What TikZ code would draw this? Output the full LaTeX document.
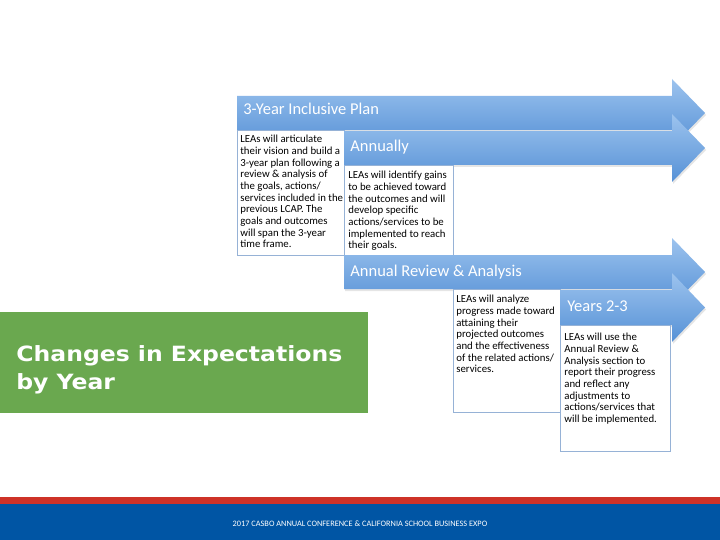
\documentclass[tikz,border=0pt]{standalone}
\usepackage{fontspec}
\setmainfont{Carlito}
\newfontfamily\headfont[FakeStretch=1.12]{DejaVu Sans}
\usetikzlibrary{shadows}

\definecolor{arrowtop}{RGB}{156,195,238}
\definecolor{arrowbot}{RGB}{86,145,214}
\definecolor{boxline}{RGB}{150,178,214}
\definecolor{casbogreen}{RGB}{106,168,79}
\definecolor{casbored}{RGB}{206,50,40}
\definecolor{casboblue}{RGB}{0,85,164}

\tikzset{every picture/.style={line width=0.75pt}}
\tikzset{
	planarrow/.style={top color=arrowtop, bottom color=arrowbot,
		drop shadow={opacity=0.2, shadow xshift=1pt, shadow yshift=-2pt}},
	arrowlabel/.style={anchor=base west, inner sep=0pt, text=white, font=\fontsize{16.5}{19}\selectfont},
	descbox/.style={draw=boxline, fill=white, line width=0.8pt},
	desc/.style={anchor=north west, inner sep=0pt, align=left, font=\fontsize{10.8}{11.65}\selectfont},
}

% left end, top and bottom of the body; head from 672 to the tip at 705
\newcommand{\stagearrow}[3]{%
	\path[planarrow] (#1,#2) -- (672,#2) -- (672,#2-17) -- (705,{(#2+#3)/2})
		-- (672,#3+17) -- (672,#3) -- (#1,#3) -- cycle;}

\begin{document}
\begin{tikzpicture}[x=1pt,y=-1pt]
		%\draw [help lines] (0,0) grid (720,540);
		\useasboundingbox (0,0) rectangle (720,540);
		\fill[white] (0,0) rectangle (720,540);

		% footer
		\fill[casbored] (0,497) rectangle (720,504);
		\fill[casboblue] (0,503.5) rectangle (720,540);
		\node[text=white, inner sep=0pt, font=\fontsize{8.3}{9}\selectfont] (footer) at (360,523.5)
			{2017 CASBO ANNUAL CONFERENCE \& CALIFORNIA SCHOOL BUSINESS EXPO};

		% title
		\fill[casbogreen] (0,312) rectangle (368,413);
		\node[anchor=north west, inner sep=0pt, text=white, align=left,
			font=\headfont\bfseries\fontsize{21}{28}\selectfont] (title) at (16,345.5)
			{Changes in Expectations\\by Year};

		% 3-year plan
		\stagearrow{237}{96}{130}
		\node[arrowlabel] (plan) at (243,115) {3-Year Inclusive Plan};
		\draw[descbox] (237,130) rectangle (344,255);
		\node[desc] (plantext) at (240,135) {LEAs will articulate\\their vision and build a\\3-year plan following a\\review \& analysis of\\the goals, actions/\\services included in the\\previous LCAP. The\\goals and outcomes\\will span the 3-year\\time frame.};

		% annually
		\stagearrow{344}{131}{165}
		\node[arrowlabel] (annual) at (350,152) {Annually};
		\draw[descbox] (344,165) rectangle (453,255);
		\node[desc] (annualtext) at (348,171) {LEAs will identify gains\\to be achieved toward\\the outcomes and will\\develop specific\\actions/services to be\\implemented to reach\\their goals.};

		% review
		\stagearrow{344}{255}{289}
		\node[arrowlabel] (review) at (350,276) {Annual Review \& Analysis};
		\draw[descbox] (453,289) rectangle (560,412);
		\node[desc] (reviewtext) at (456,295) {LEAs will analyze\\progress made toward\\attaining their\\projected outcomes\\and the effectiveness\\of the related actions/\\services.};

		% years 2-3
		\stagearrow{560}{290}{325}
		\node[arrowlabel] (years) at (567,311) {Years 2-3};
		\draw[descbox] (560,325) rectangle (670,451);
		\node[desc] (yearstext) at (564,333) {LEAs will use the\\Annual Review \&\\Analysis section to\\report their progress\\and reflect any\\adjustments to\\actions/services that\\will be implemented.};
	\end{tikzpicture}
\end{document}
